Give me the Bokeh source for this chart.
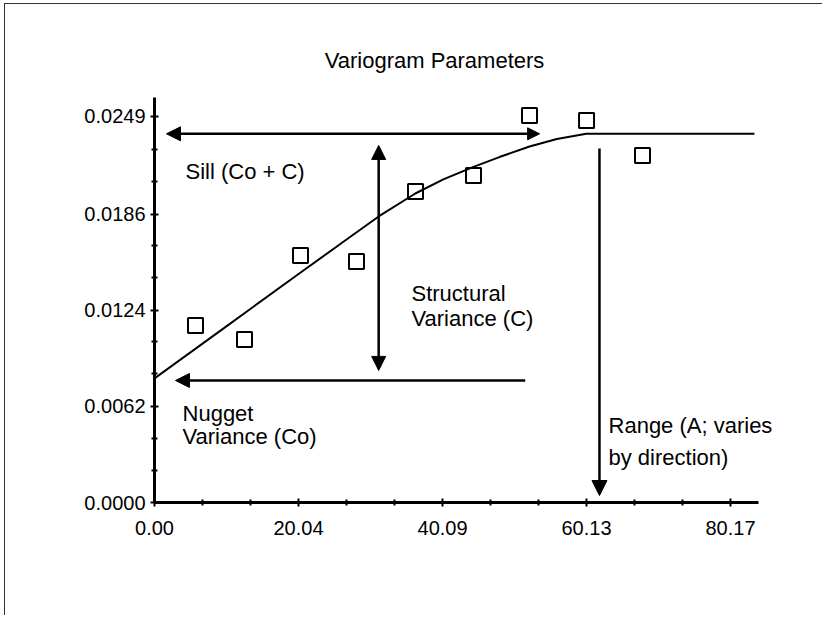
from bokeh.plotting import figure
from bokeh.models import Range1d, FixedTicker, Label, Arrow, NormalHead, NumeralTickFormatter
from bokeh.embed import file_html
from bokeh.resources import INLINE
import math

# ---- data ----
lag_x = [5.71, 12.53, 20.32, 28.11, 36.33, 44.40, 52.19, 60.13, 67.92]
semivar = [0.01142, 0.01051, 0.01593, 0.01555, 0.02006, 0.02109, 0.02496, 0.02464, 0.02238]

model_x = [0.0, 10.0, 20.0, 26.0, 31.2, 36.3, 40.2, 44.4, 48.0, 52.2, 56.0, 60.1, 83.5]
model_y = [0.0080, 0.01136, 0.01472, 0.01672, 0.01845, 0.01993, 0.02084, 0.02165,
           0.02228, 0.02296, 0.02345, 0.02378, 0.02378]

x_major = [0.00, 20.04, 40.09, 60.13, 80.17]
x_minor = [6.68, 13.36, 26.72, 33.41, 46.77, 53.45, 66.81, 73.49]
y_major = [0.0, 0.0062, 0.0124, 0.0186, 0.0249]
y_minor = [0.00207, 0.00415, 0.0083, 0.0104, 0.0145, 0.0166, 0.0207, 0.0228]

# annotation arrows: (x_start, y_start, x_end, y_end)
sill_arrow = [1.67, 0.02378, 53.6, 0.02378]
structural_arrow = [31.2, 0.00852, 31.2, 0.02303]
nugget_arrow = [51.6, 0.00787, 2.92, 0.00787]
range_arrow = [61.93, 0.02284, 61.93, 0.00045]

FONT = "Liberation Sans"

p = figure(width=818, height=612, output_backend="svg", toolbar_location=None,
           x_range=Range1d(0, 93.11), y_range=Range1d(0, 0.03212),
           min_border_left=149, min_border_right=0, min_border_top=0, min_border_bottom=114)
p.title.visible = False
p.outline_line_color = None
p.grid.visible = False
p.background_fill_color = "white"
p.border_fill_color = "white"
p.styles = {"border-left": "1px solid #333", "border-top": "1px solid #333",
            "margin-left": "4px", "margin-top": "3px"}

for ax in (p.xaxis[0], p.yaxis[0]):
    ax.axis_line_width = 3
    ax.axis_line_color = "black"
    ax.major_tick_in = 4
    ax.major_tick_out = 4
    ax.minor_tick_in = 3
    ax.minor_tick_out = 3
    ax.major_tick_line_width = 2
    ax.minor_tick_line_width = 2
    ax.major_label_text_font = FONT
    ax.major_label_text_font_size = "20px"
    ax.major_label_text_color = "black"

p.xaxis.bounds = (0, 84.0)
p.yaxis.bounds = (0, 0.0261)
p.xaxis.ticker = FixedTicker(ticks=x_major, minor_ticks=x_minor)
p.yaxis.ticker = FixedTicker(ticks=y_major, minor_ticks=y_minor)
p.xaxis.formatter = NumeralTickFormatter(format="0.00")
p.yaxis.formatter = NumeralTickFormatter(format="0.0000")
p.xaxis.major_label_standoff = 14
p.yaxis.major_label_standoff = 5

# model curve and empirical points
p.line(model_x, model_y, line_color="black", line_width=2)
p.scatter(lag_x, semivar, marker="square", size=15, fill_color=None,
          line_color="black", line_width=2)

def head(s):
    return NormalHead(size=s, fill_color="black", line_color="black")

p.add_layout(Arrow(x_start=sill_arrow[0], y_start=sill_arrow[1], x_end=sill_arrow[2], y_end=sill_arrow[3],
                   start=head(14), end=head(12), line_width=2.5))
p.add_layout(Arrow(x_start=structural_arrow[0], y_start=structural_arrow[1],
                   x_end=structural_arrow[2], y_end=structural_arrow[3],
                   start=head(14), end=head(14), line_width=2.5))
p.add_layout(Arrow(x_start=nugget_arrow[0], y_start=nugget_arrow[1], x_end=nugget_arrow[2], y_end=nugget_arrow[3],
                   end=head(14), line_width=2.5))
p.add_layout(Arrow(x_start=range_arrow[0], y_start=range_arrow[1], x_end=range_arrow[2], y_end=range_arrow[3],
                   end=head(15), line_width=2.5))

def lab(x, y, t, size="22px", align="left", baseline="alphabetic", angle=0.0):
    p.add_layout(Label(x=x, y=y, text=t, text_font=FONT, text_font_size=size,
                       text_align=align, text_baseline=baseline, angle=angle, text_color="black"))

lab(38.97, 0.02851, "Variogram Parameters", align="center")
lab(41.82, -0.00523, "Separation Distance", size="20px", align="center")
lab(-13.36, 0.01284, "Semivariance", size="21px", align="center", baseline="middle", angle=math.pi / 2)
lab(4.31, 0.02135, "Sill (Co + C)")
lab(35.77, 0.01348, "Structural")
lab(35.77, 0.01187, "Variance (C)")
lab(3.90, 0.00574, "Nugget")
lab(3.90, 0.00426, "Variance (Co)")
lab(63.19, 0.00497, "Range (A; varies")
lab(63.19, 0.00290, "by direction)")

open("out.html", "w").write(file_html(p, INLINE))
